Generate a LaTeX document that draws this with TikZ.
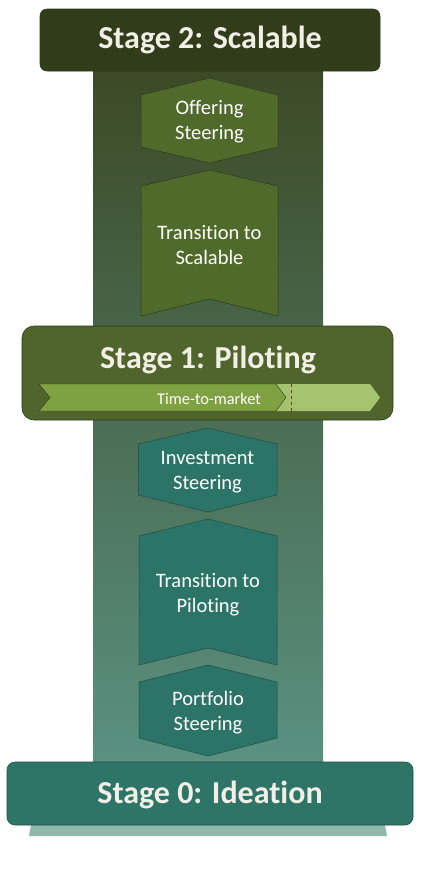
\documentclass[tikz,border=0pt]{standalone}
\usepackage{fontspec}
\setmainfont{Carlito}[Ligatures={NoCommon,NoRequired,NoContextual}]
\definecolor{stagetwo}{HTML}{313C1B}
\definecolor{stageone}{HTML}{50652B}
\definecolor{stagezero}{HTML}{2E7567}
\definecolor{olivebox}{HTML}{4F6A2A}
\definecolor{tealbox}{HTML}{2D7468}
\definecolor{colTop}{HTML}{3C4A26}
\definecolor{colMid}{HTML}{587040}
\definecolor{colBot}{HTML}{5A9282}
\definecolor{baseteal}{HTML}{8DB8AA}
\definecolor{ttmdark}{HTML}{7FA142}
\definecolor{ttmlight}{HTML}{A6C46F}
\definecolor{titletext}{HTML}{F2EFE6}
\definecolor{oliveedge}{HTML}{2C3A17}
\definecolor{tealedge}{HTML}{1F4C43}
\definecolor{dashred}{HTML}{6B3A2A}
\tikzset{
  stagebox/.style={draw=#1, line width=0.6pt},
  stagetitle/.style={text=titletext, font=\fontsize{32}{36}\selectfont\bfseries, inner sep=0pt},
  bodytext/.style={text=white, align=center, font=\fontsize{20.5}{25}\selectfont, inner sep=0pt},
  shapeolive/.style={fill=olivebox, draw=oliveedge, line width=0.5pt},
  shapeteal/.style={fill=tealbox, draw=tealedge, line width=0.5pt},
}
\begin{document}
\begin{tikzpicture}[x=1pt,y=-1pt]
\useasboundingbox (0,0) rectangle (421,873);
% column
\shade[top color=colTop, middle color=colMid, bottom color=colBot] (93,71) rectangle (323,770);
% base
\fill[baseteal] (29,836) -- (31,825) -- (385,825) -- (387,836) -- cycle;
% stage 2
\draw[stagebox=oliveedge, fill=stagetwo, rounded corners=7] (40,9) rectangle (380,71);
\node[stagetitle] (s2) at (210,40) {Stage 2: Scalable};
% offering steering
\draw[shapeolive] (141,95) -- (209.5,78) -- (278,95) -- (278,147) -- (209.5,163) -- (141,147) -- cycle;
\node[bodytext] (offer) at (209.5,122) {Offering\\Steering};
% transition to scalable
\draw[shapeolive] (141,186) -- (209.5,170) -- (278,186) -- (278,316) -- (209.5,299) -- (141,316) -- cycle;
\node[bodytext] (tscal) at (209.5,245.5) {Transition to\\Scalable};
% stage 1
\draw[stagebox=oliveedge, fill=stageone, rounded corners=12] (22,326) rectangle (393,420);
\node[stagetitle] (s1) at (208,360) {Stage 1: Piloting};
% time to market
\fill[ttmlight] (276,384) -- (370,384) -- (380,397.5) -- (370,411) -- (276,411) -- cycle;
\draw[fill=ttmdark, draw=oliveedge, line width=0.4pt] (39,384) -- (276,384) -- (286,397.5) -- (276,411) -- (39,411) -- (50,397.5) -- cycle;
\draw[dashred, dashed, line width=0.6pt] (291,384) -- (291,411);
\node[text=white, font=\fontsize{16.3}{18}\selectfont, inner sep=0pt] (ttm) at (209,399) {Time-to-market};
% investment steering
\draw[shapeteal] (138.5,444) -- (207.5,428) -- (277,444) -- (277,495) -- (207.5,512) -- (138.5,495) -- cycle;
\node[bodytext] (invest) at (207.5,472) {Investment\\Steering};
% transition to piloting
\draw[shapeteal] (139,536) -- (208,519) -- (277,536) -- (277,665) -- (208,648) -- (139,665) -- cycle;
\node[bodytext] (tpilot) at (208,595) {Transition to\\Piloting};
% portfolio steering
\draw[shapeteal] (139,682) -- (208,665) -- (277,682) -- (277,738) -- (208,756) -- (139,738) -- cycle;
\node[bodytext] (port) at (208,713) {Portfolio\\Steering};
% stage 0
\draw[stagebox=tealedge, fill=stagezero, rounded corners=8] (7,762) rectangle (413,825);
\node[stagetitle] (s0) at (210,795) {Stage 0: Ideation};
\end{tikzpicture}
\end{document}
